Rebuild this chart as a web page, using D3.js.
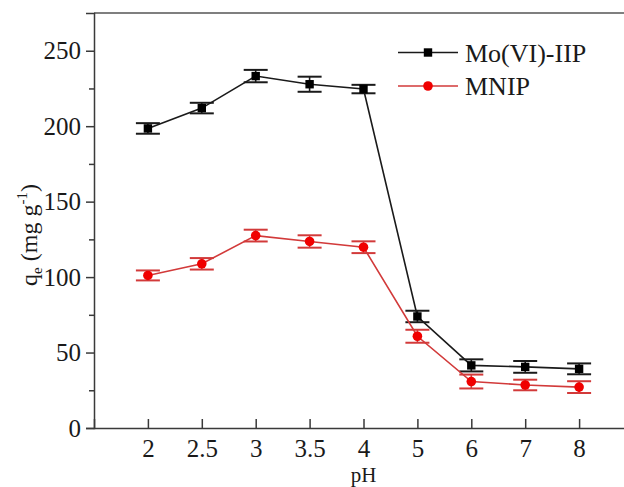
<!DOCTYPE html>
<html>
<head>
<meta charset="utf-8">
<script src="https://cdn.jsdelivr.net/npm/d3@7"></script>
<style>
  html, body { margin: 0; padding: 0; background: #fff; }
  svg { display: block; }
  text { font-family: "Liberation Serif", "Times New Roman", serif; fill: #1a1a1a; }
</style>
</head>
<body>
<svg id="chart" width="624" height="487"></svg>
<script>
const phLabels = ["2", "2.5", "3", "3.5", "4", "5", "6", "7", "8"];
const iipValues = [198.5, 212, 233.2, 227.8, 224.6, 73.9, 41.5, 40.5, 39.2];
const iipErrors = [3.5, 3.5, 4.1, 5.0, 2.8, 3.8, 4.0, 3.9, 3.6];
const mnipValues = [101.1, 108.8, 127.5, 123.6, 119.8, 60.8, 30.8, 28.5, 27.1];
const mnipErrors = [3.3, 3.8, 3.9, 4.1, 3.9, 4.3, 4.6, 3.5, 3.9];
const yTicks = [0, 50, 100, 150, 200, 250];
const yMinorTicks = [25, 75, 125, 175, 225];
const seriesNames = ["Mo(VI)-IIP", "MNIP"];

const svg = d3.select("#chart");
const plotLeft = 94, plotRight = 633, plotTop = 13, plotBottom = 428;
const axisColor = "#3a3a3a";

const x = d3.scaleLinear().domain([-1, phLabels.length]).range([plotLeft, plotRight]);
const y = d3.scaleLinear().domain([0, 275]).range([plotBottom, plotTop]);

// frame: top line
svg.append("line").attr("x1", plotLeft).attr("x2", plotRight).attr("y1", plotTop).attr("y2", plotTop)
  .attr("stroke", "#555").attr("stroke-width", 1.5);

// Y axis
const yAxis = d3.axisLeft(y).tickValues(yTicks).tickSize(8).tickPadding(4).tickFormat(d3.format("d"));
const yg = svg.append("g").attr("transform", `translate(${plotLeft},0)`).call(yAxis);
yg.attr("font-family", null);
yg.select(".domain").attr("stroke", axisColor).attr("stroke-width", 1.5);
yg.selectAll(".tick line").attr("stroke", axisColor).attr("stroke-width", 1.5);
yg.selectAll(".tick text").attr("font-size", 25).attr("fill", "#1a1a1a").attr("dx", "-1");
const yMinor = d3.axisLeft(y).tickValues(yMinorTicks).tickSize(5).tickFormat("");
const ym = svg.append("g").attr("transform", `translate(${plotLeft},0)`).call(yMinor);
ym.select(".domain").remove();
ym.selectAll(".tick line").attr("stroke", axisColor).attr("stroke-width", 1.5);

// X axis (ticks inward)
const xAxis = d3.axisBottom(x).tickValues(d3.range(phLabels.length)).tickSize(-9)
  .tickPadding(11).tickFormat(i => phLabels[i]);
const xg = svg.append("g").attr("transform", `translate(0,${plotBottom})`).call(xAxis);
xg.attr("font-family", null);
xg.select(".domain").attr("stroke", axisColor).attr("stroke-width", 1.5);
xg.selectAll(".tick line").attr("stroke", axisColor).attr("stroke-width", 1.5);
xg.selectAll(".tick text").attr("font-size", 25).attr("fill", "#1a1a1a");

// Axis titles
svg.append("text").attr("x", (plotLeft + plotRight) / 2).attr("y", 482).attr("text-anchor", "middle")
  .attr("font-size", 21).text("pH");

const yl = svg.append("text").attr("transform", "translate(37,235) rotate(-90)")
  .attr("text-anchor", "middle").attr("font-size", 24);
yl.append("tspan").text("q");
yl.append("tspan").attr("font-size", 15).attr("dy", 5).text("e");
yl.append("tspan").attr("dy", -5).text(" (mg g");
yl.append("tspan").attr("font-size", 15).attr("dy", -10).text("-1");
yl.append("tspan").attr("dy", 10).text(")");

// series
const series = [
  { name: seriesNames[0], values: iipValues, errors: iipErrors, line: "#1a1a1a", mark: "#000", shape: "square" },
  { name: seriesNames[1], values: mnipValues, errors: mnipErrors, line: "#d23a3a", mark: "#f00000", shape: "circle" }
];

const lineGen = d3.line().x((d, i) => x(i)).y(d => y(d));
const capHalf = 12;

series.forEach(s => {
  const g = svg.append("g");
  g.append("path").datum(s.values).attr("d", lineGen).attr("fill", "none")
    .attr("stroke", s.line).attr("stroke-width", 1.6);
  const eb = g.selectAll(".eb").data(s.values).enter().append("g");
  eb.append("line").attr("x1", (d, i) => x(i)).attr("x2", (d, i) => x(i))
    .attr("y1", (d, i) => y(d - s.errors[i])).attr("y2", (d, i) => y(d + s.errors[i]))
    .attr("stroke", s.line).attr("stroke-width", 1.6);
  [-1, 1].forEach(sign => {
    eb.append("line").attr("x1", (d, i) => x(i) - capHalf).attr("x2", (d, i) => x(i) + capHalf)
      .attr("y1", (d, i) => y(d + sign * s.errors[i])).attr("y2", (d, i) => y(d + sign * s.errors[i]))
      .attr("stroke", s.line).attr("stroke-width", 2);
  });
  if (s.shape === "square") {
    g.selectAll(".m").data(s.values).enter().append("rect")
      .attr("x", (d, i) => x(i) - 4.2).attr("y", d => y(d) - 4.2)
      .attr("width", 8.4).attr("height", 8.4).attr("fill", s.mark);
  } else {
    g.selectAll(".m").data(s.values).enter().append("circle")
      .attr("cx", (d, i) => x(i)).attr("cy", d => y(d)).attr("r", 4.8).attr("fill", s.mark);
  }
});

// legend
const legendRows = [52.5, 86];
series.forEach((s, k) => {
  const ly = legendRows[k];
  svg.append("line").attr("x1", 398).attr("x2", 458).attr("y1", ly).attr("y2", ly)
    .attr("stroke", s.line).attr("stroke-width", 1.6);
  if (s.shape === "square") {
    svg.append("rect").attr("x", 428 - 4.2).attr("y", ly - 4.2).attr("width", 8.4).attr("height", 8.4).attr("fill", s.mark);
  } else {
    svg.append("circle").attr("cx", 428).attr("cy", ly).attr("r", 4.8).attr("fill", s.mark);
  }
  svg.append("text").attr("x", 465).attr("y", ly + 9).attr("font-size", 26).text(s.name);
});
</script>
</body>
</html>
